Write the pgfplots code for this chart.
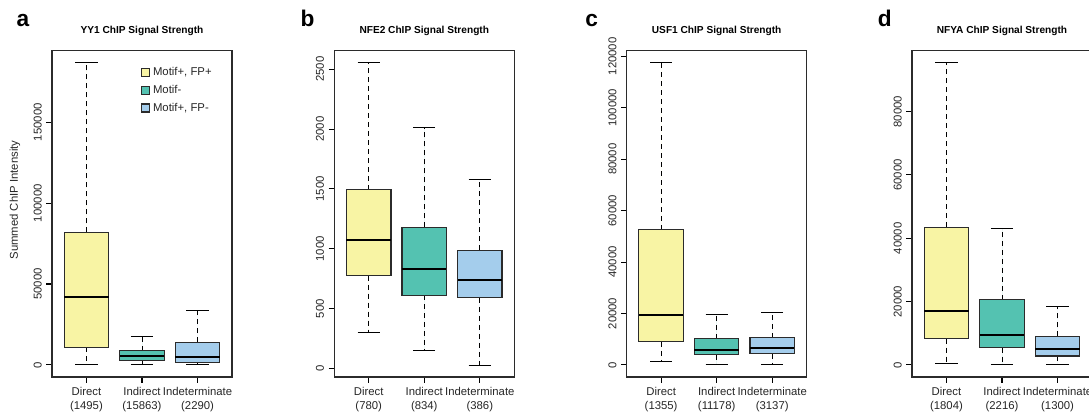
\documentclass[border=0pt]{standalone}
\usepackage{pgfplots}
\pgfplotsset{compat=1.18}
\usepgfplotslibrary{statistics}
\usepackage{fontspec}
\setmainfont{Liberation Sans}
\definecolor{cyel}{HTML}{F8F4A4}
\definecolor{cteal}{HTML}{54C2B1}
\definecolor{cblue}{HTML}{A4CDEC}
\definecolor{cbord}{HTML}{2B2B2B}
\pgfplotsset{
  boxplot/draw/lower whisker/.code={%
    \draw[dash pattern=on 3.75pt off 3pt, line width=0.75pt, draw=black]
      (boxplot box cs:\pgfplotsboxplotvalue{lower quartile},0.5) --
      (boxplot box cs:\pgfplotsboxplotvalue{lower whisker},0.5);
    \draw[solid, line width=0.75pt, draw=black]
      (boxplot whisker cs:\pgfplotsboxplotvalue{lower whisker},0) --
      (boxplot whisker cs:\pgfplotsboxplotvalue{lower whisker},1);
  },
  boxplot/draw/upper whisker/.code={%
    \draw[dash pattern=on 3.75pt off 3pt, line width=0.75pt, draw=black]
      (boxplot box cs:\pgfplotsboxplotvalue{upper quartile},0.5) --
      (boxplot box cs:\pgfplotsboxplotvalue{upper whisker},0.5);
    \draw[solid, line width=0.75pt, draw=black]
      (boxplot whisker cs:\pgfplotsboxplotvalue{upper whisker},0) --
      (boxplot whisker cs:\pgfplotsboxplotvalue{upper whisker},1);
  },
  boxplot/every median/.style={draw=black, line width=1.4pt},
  boxplot/box extend=0.8,
  boxplot/whisker extend=0.4,
  boxplot/draw direction=y,
  panel/.style={
    scale only axis, width=135pt, height=244.9pt,
    anchor=south west,
    xmin=0.38, xmax=3.62,
    xtick={1,2,3},
    xtick pos=bottom, ytick pos=left,
    tick align=outside,
    major tick length=4.2pt,
    axis line style={draw=cbord, line width=0.9pt},
    major tick style={draw=black, line width=0.8pt},
    scaled y ticks=false,
    /pgf/number format/.cd, fixed, 1000 sep={}, assume math mode=true, /pgfplots/.cd,
    tick label style={font=\fontsize{8.5}{10.3}\selectfont, text=black!85},
    xticklabel style={align=center},
    yticklabel style={rotate=90, anchor=south},
    title style={font=\bfseries\fontsize{7.6}{9}\selectfont, at={(axis description cs:0.5,1)}, anchor=base, yshift=6.8pt},
    clip=false,
  },
}
\newcommand{\bx}[7]{\addplot[boxplot prepared={draw position=#1, lower whisker=#2, lower quartile=#3, median=#4, upper quartile=#5, upper whisker=#6}, fill=#7, draw=cbord, line width=0.9pt, forget plot] coordinates {};}
\begin{document}
\begin{tikzpicture}[x=0.75pt,y=0.75pt]
\useasboundingbox (0,0) rectangle (1089,412);
\clip (0,0) rectangle (1089,412);
% panel a
\begin{axis}[panel, at={(39pt,26.25pt)}, ymin=-7500, ymax=194400,
  ytick={0,50000,100000,150000},
  xticklabels={{Direct\\(1495)},{Indirect\\(15863)},{Indeterminate\\(2290)}},
  title={YY1 ChIP Signal Strength},
  ylabel={Summed ChIP Intensity},
  ylabel style={font=\fontsize{8.5}{10}\selectfont, text=black!85, at={(axis description cs:-0.2056,0.542)}, anchor=center},
  legend cell align=left,
  legend image code/.code={\draw (0pt,-3pt) rectangle (6pt,3pt);},
  legend style={at={(axis description cs:0.494,0.956)}, anchor=north west, draw=none, fill=none,
    font=\fontsize{8.5}{10}\selectfont, text=black!85, row sep=1.5pt, inner sep=0pt},
]
\addlegendimage{fill=cyel, draw=cbord, line width=0.9pt}
\addlegendentry{Motif+, FP+}
\addlegendimage{fill=cteal, draw=cbord, line width=0.9pt}
\addlegendentry{Motif-}
\addlegendimage{fill=cblue, draw=cbord, line width=0.9pt}
\addlegendentry{Motif+, FP-}
\bx{1}{300}{10900}{41900}{82000}{186900}{cyel}
\bx{2}{0}{2480}{5580}{8860}{17540}{cteal}
\bx{3}{0}{1430}{4960}{14000}{33500}{cblue}
\end{axis}
% panel b
\begin{axis}[panel, at={(250.7pt,26.25pt)}, ymin=-71, ymax=2657,
  ytick={0,500,1000,1500,2000,2500},
  xticklabels={{Direct\\(780)},{Indirect\\(834)},{Indeterminate\\(386)}},
  title={NFE2 ChIP Signal Strength},
]
\bx{1}{300}{775}{1072}{1493}{2556}{cyel}
\bx{2}{150}{612}{828}{1180}{2012}{cteal}
\bx{3}{28}{590}{740}{988}{1575}{cblue}
\end{axis}
% panel c
\begin{axis}[panel, at={(470pt,26.25pt)}, ymin=-4700, ymax=122300,
  ytick={0,20000,40000,60000,80000,100000,120000},
  xticklabels={{Direct\\(1355)},{Indirect\\(11178)},{Indeterminate\\(3137)}},
  title={USF1 ChIP Signal Strength},
]
\bx{1}{1300}{8960}{19480}{52600}{117800}{cyel}
\bx{2}{260}{3900}{5850}{10130}{19750}{cteal}
\bx{3}{0}{4290}{6500}{10520}{20520}{cblue}
\end{axis}
% panel d
\begin{axis}[panel, at={(684pt,26.25pt)}, ymin=-3820, ymax=99320,
  ytick={0,20000,40000,60000,80000},
  xticklabels={{Direct\\(1804)},{Indirect\\(2216)},{Indeterminate\\(1300)}},
  title={NFYA ChIP Signal Strength},
]
\bx{1}{530}{8300}{17150}{43500}{95500}{cyel}
\bx{2}{0}{5470}{9370}{20630}{43150}{cteal}
\bx{3}{0}{2840}{5050}{9050}{18420}{cblue}
\end{axis}
\node[font=\bfseries\fontsize{17}{20}\selectfont, anchor=base] at (23,385.3) {a};
\node[font=\bfseries\fontsize{17}{20}\selectfont, anchor=base] at (307.5,385.3) {b};
\node[font=\bfseries\fontsize{17}{20}\selectfont, anchor=base] at (591.7,386) {c};
\node[font=\bfseries\fontsize{17}{20}\selectfont, anchor=base] at (884.7,385.3) {d};
\end{tikzpicture}
\end{document}
